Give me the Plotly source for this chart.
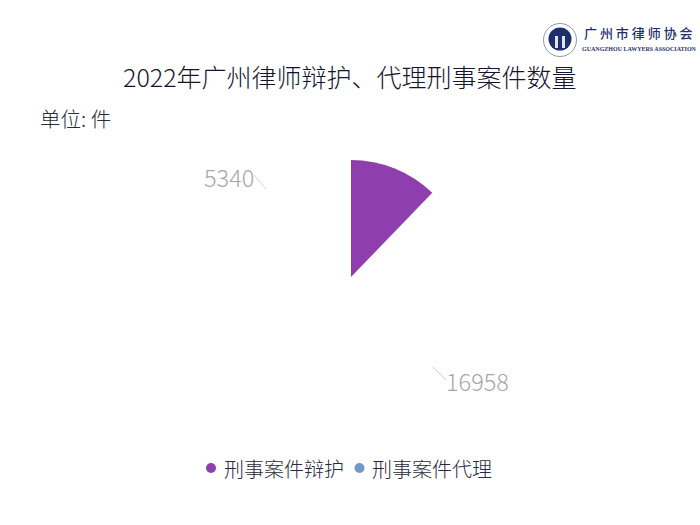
import plotly.graph_objects as go

W, H = 700, 525
FONT = "Noto Sans CJK SC"

categories = ["刑事案件辩护", "刑事案件代理"]
case_counts = [5340, 16958]
# The reference shows the sweep part-way: only a 44 degree purple wedge is painted.
# The unpainted remainder of the circle is carried by this extra, transparent value.
unpainted_rest = [21393]
colors = ["#8e3ead", "#6f9ac8"]
title_text = "2022年广州律师辩护、代理刑事案件数量"
unit_text = "单位: 件"
logo_cn = "广 州 市 律 师 协 会"
logo_en = "GUANGZHOU LAWYERS ASSOCIATION"


def px(x):
    return x / W


def py(y):
    return 1 - y / H


cx, cy, r = 351, 277, 117

fig = go.Figure()
fig.add_trace(go.Pie(
    labels=categories + ["未绘制"],
    values=case_counts + unpainted_rest,
    sort=False,
    direction="clockwise",
    rotation=0,
    hole=0,
    textinfo="none",
    hoverinfo="skip",
    showlegend=False,
    marker=dict(colors=[colors[0], "rgba(0,0,0,0)", "rgba(0,0,0,0)"], line=dict(width=0)),
    domain=dict(x=[px(cx - r), px(cx + r)], y=[py(cy + r), py(cy - r)]),
))


def text(x, y, s, size, color, anchor="left", family=FONT, weight=300):
    return dict(
        x=px(x), y=py(y), xref="paper", yref="paper", text=s, showarrow=False,
        xanchor=anchor, yanchor="middle", borderpad=0,
        font=dict(family=family, size=size, color=color, weight=weight),
    )


def circle(x, y, rad, fill, line=None):
    return dict(
        type="circle", xref="paper", yref="paper",
        x0=px(x - rad), x1=px(x + rad), y0=py(y + rad), y1=py(y - rad),
        fillcolor=fill, line=dict(color=line, width=1) if line else dict(width=0),
    )


annotations = [
    text(350, 76, title_text, 25, "#14142e", "center"),
    text(39, 118, unit_text, 20.5, "#2a2a3c"),
    text(255, 177, str(case_counts[0]), 23.5, "#a6a6ae", "right"),
    text(445, 381, str(case_counts[1]), 23.5, "#a6a6ae", "left"),
    text(223, 468, categories[0], 20, "#2a2a3c"),
    text(371, 468, categories[1], 20, "#2a2a3c"),
    text(583, 32, logo_cn, 13, "#1f2f6e", "left", weight=500),
    text(581, 49, logo_en, 6, "#1f2f6e", "left", "Liberation Serif", 700),
]

shapes = [
    dict(type="line", xref="paper", yref="paper", x0=px(254), y0=py(175), x1=px(266), y1=py(189),
         line=dict(color="#d6d6e4", width=1)),
    dict(type="line", xref="paper", yref="paper", x0=px(433), y0=py(367), x1=px(446), y1=py(380),
         line=dict(color="#c9c9de", width=1)),
    circle(211, 468, 5, colors[0]),
    circle(359.5, 468, 5, colors[1]),
    circle(560, 40, 16.5, "#ffffff", "#8f97b8"),
    circle(560, 39, 11.5, "#1f2f6e"),
    dict(type="rect", xref="paper", yref="paper", x0=px(555), y0=py(48), x1=px(558), y1=py(36),
         fillcolor="#dfe3ee", line=dict(width=0)),
    dict(type="rect", xref="paper", yref="paper", x0=px(562), y0=py(48), x1=px(565), y1=py(36),
         fillcolor="#dfe3ee", line=dict(width=0)),
]

fig.update_layout(
    width=W, height=H,
    margin=dict(l=0, r=0, t=0, b=0),
    autosize=False,
    paper_bgcolor="#ffffff",
    annotations=annotations,
    shapes=shapes,
    font=dict(family=FONT, weight=300),
    showlegend=False,
)

fig.write_html(
    "out.html",
    post_script="document.body.style.margin='0';",
    config={"displayModeBar": False},
)
